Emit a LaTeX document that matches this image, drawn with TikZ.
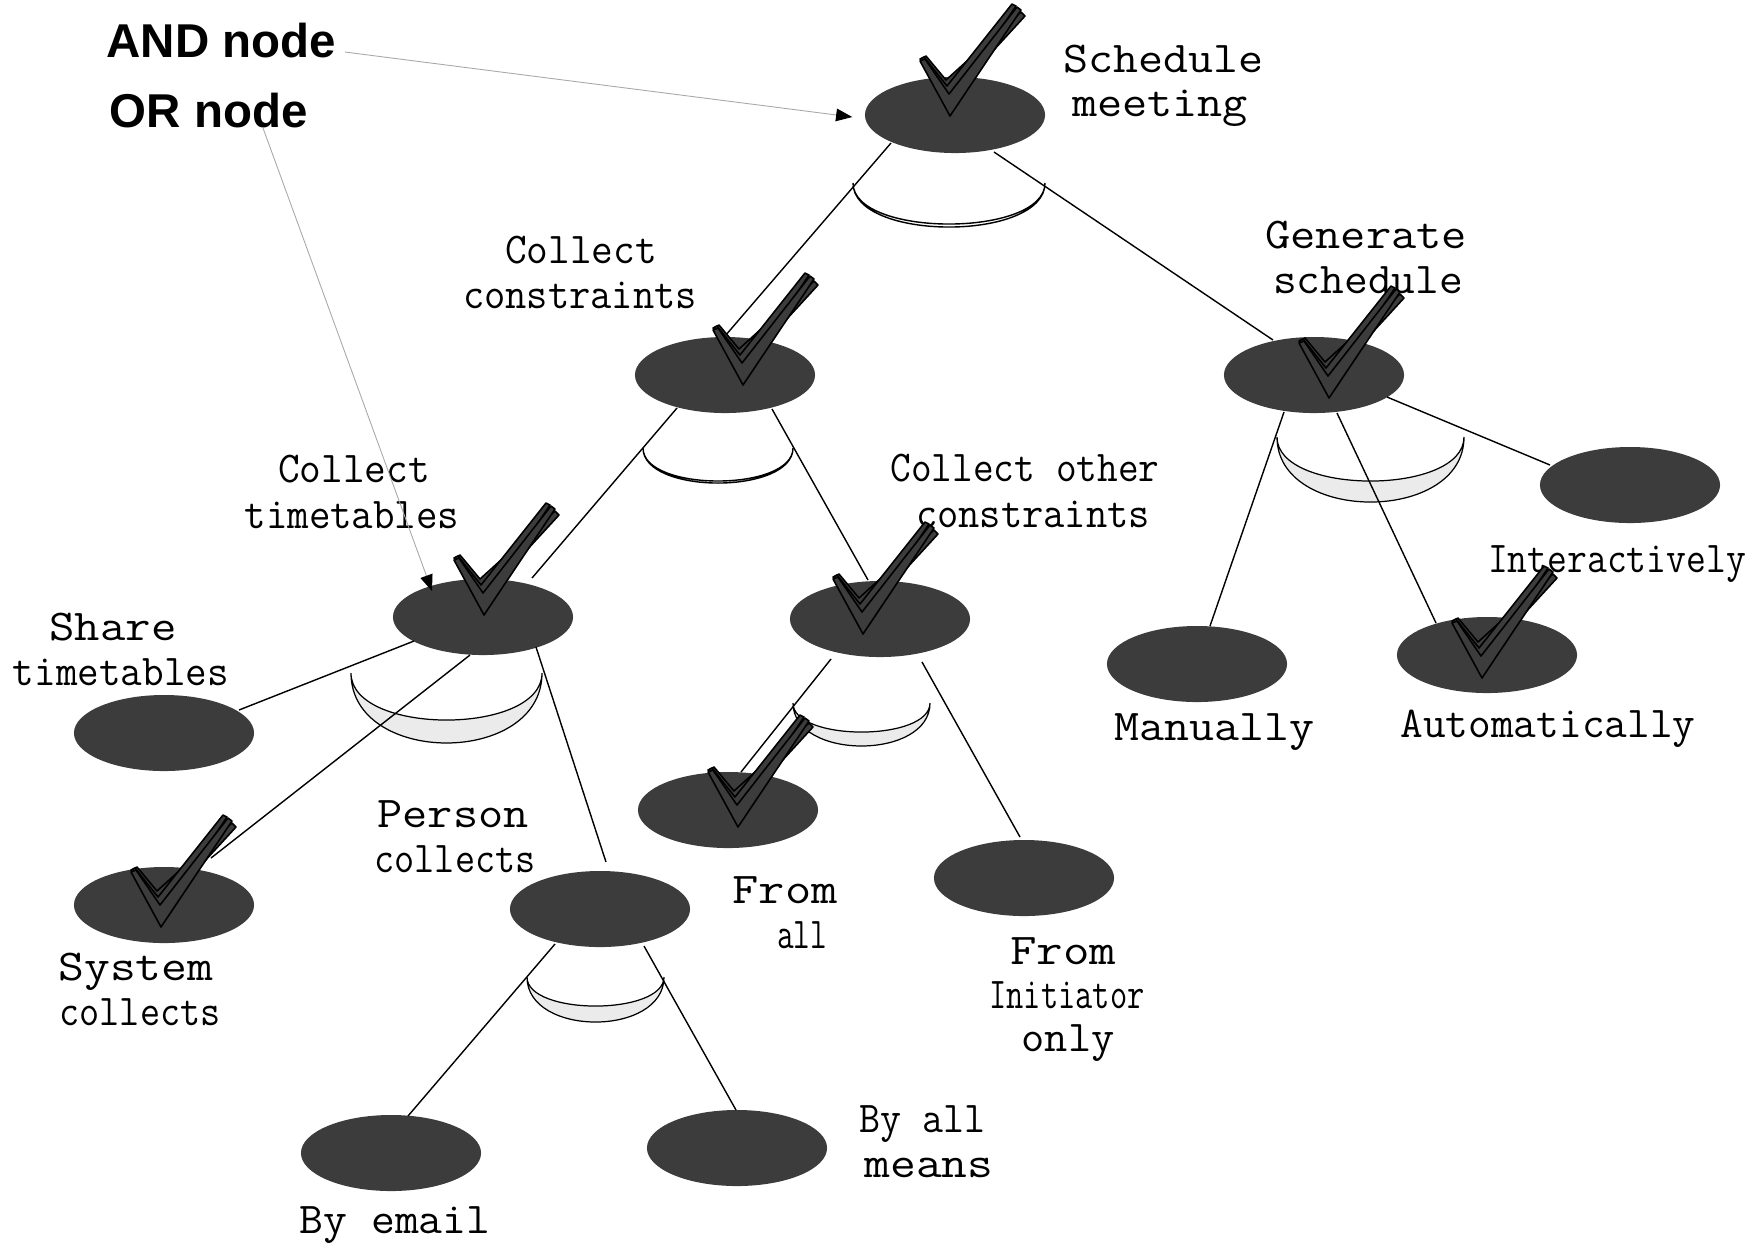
\documentclass[tikz,border=0pt]{standalone}
\usepackage{fontspec}
\usepackage{graphicx}
\usetikzlibrary{calc,arrows.meta,shapes.geometric}
\newfontfamily\sansf{Liberation Sans}
\definecolor{dk}{HTML}{3C3C3C}
\definecolor{lt}{HTML}{EBEBEB}
\definecolor{ptrc}{HTML}{A8A8A8}
\newlength\pxu \setlength\pxu{0.01cm}
\newcommand\fw[2]{\resizebox{#1\pxu}{\height}{#2}}
\tikzset{
  chk/.pic={
    \filldraw[fill=dk,draw=black,line width=0.45pt,line join=round]
      (-3,-15) -- (-28,-58) -- (-24,-60) -- (-4,-36) -- (71,-104) -- (75,-100) -- cycle;
    \filldraw[fill=dk,draw=black,line width=0.45pt,line join=round]
      (-2,-8) -- (-30,-57) -- (-26,-59) -- (-3,-30) -- (62,-112) -- (66,-110) -- cycle;
    \filldraw[fill=dk,draw=black,line width=0.45pt,line join=round]
      (0,0) -- (-30,-55) -- (-25,-57) -- (-1,-22) -- (67,-109) -- (71,-106) -- cycle;
  }
}
\begin{document}
\begin{tikzpicture}[x=0.01cm,y=-0.01cm,
  goal/.style={ellipse, fill=dk, minimum width=1.8cm, minimum height=0.76cm, inner sep=0pt},
  lbl/.style={font=\ttfamily\fontsize{12.5}{14}\selectfont, anchor=base, inner sep=0pt},
  conn/.style={line width=0.4pt, draw=black},
  orarc/.style={fill=lt, draw=black, line width=0.35pt},
  andarc/.style={fill=white, draw=black, line width=0.4pt},
  ptr/.style={draw=ptrc, line width=0.25pt, -{Triangle[length=4.6pt,width=3.6pt,color=black]}},
  hdr/.style={font=\sansf\bfseries\fontsize{13.5}{16}\selectfont, anchor=base west, inner sep=0pt}
]
\useasboundingbox (0,0) rectangle (1760,1253);

% goal nodes
\node[goal] (sm)   at (955,115) {};
\node[goal] (cc)   at (725,375) {};
\node[goal] (gs)   at (1314,375) {};
\node[goal] (ct)   at (483,617) {};
\node[goal] (co)   at (880,619) {};
\node[goal] (st)   at (164,733) {};
\node[goal] (sc)   at (164,905) {};
\node[goal] (pc)   at (600,909) {};
\node[goal] (fa)   at (728,810) {};
\node[goal] (fi)   at (1024,878) {};
\node[goal] (man)  at (1197,664) {};
\node[goal] (auto) at (1487,655) {};
\node[goal] (int)  at (1630,485) {};
\node[goal] (be)   at (391,1153) {};
\node[goal] (ba)   at (737,1148) {};

% AND arcs
\draw[andarc] (853,183) .. controls (853,241.7) and (1045,241.7) .. (1045,183)
  .. controls (1045,237.7) and (853,237.7) .. (853,183) -- cycle;
\draw[andarc] (643,448) .. controls (643,494.7) and (793,494.7) .. (793,448)
  .. controls (793,492) and (643,492) .. (643,448) -- cycle;
% OR arcs
\draw[orarc] (351,673) .. controls (351,766.3) and (542,766.3) .. (542,673)
  .. controls (542,735.7) and (351,735.7) .. (351,673) -- cycle;
\draw[orarc] (793,703) .. controls (793,760.3) and (930,760.3) .. (930,703)
  .. controls (930,741.7) and (793,741.7) .. (793,703) -- cycle;
\draw[orarc] (527,977) .. controls (527,1037) and (664,1037) .. (664,977)
  .. controls (664,1015.7) and (527,1015.7) .. (527,977) -- cycle;
\draw[orarc] (1277,437) .. controls (1277,523.7) and (1464,523.7) .. (1464,437)
  .. controls (1464,495.7) and (1277,495.7) .. (1277,437) -- cycle;

% connectors
\draw[conn] ($(sm)+(-64,28)$) -- ($(cc)+(0,-39)$);
\draw[conn] ($(sm)+(39,37)$) -- ($(gs)+(-41,-35)$);
\draw[conn] ($(cc)+(-48,33)$) -- ($(ct)+(49,-39)$);
\draw[conn] ($(cc)+(47,34)$) -- ($(co)+(-12,-39)$);
\draw[conn] ($(gs)+(-30,37)$) -- ($(man)+(13,-38)$);
\draw[conn] ($(gs)+(23,38)$) -- ($(auto)+(-51,-32)$);
\draw[conn] ($(gs)+(73,22)$) -- ($(int)+(-80,-20)$);
\draw[conn] ($(ct)+(-69,24)$) -- ($(st)+(75,-23)$);
\draw[conn] ($(ct)+(-13,38)$) -- ($(sc)+(47,-47)$);
\draw[conn] ($(ct)+(53,30)$) -- ($(pc)+(6,-47)$);
\draw[conn] ($(co)+(-49,40)$) -- ($(fa)+(13,-38)$);
\draw[conn] ($(co)+(42,43)$) -- ($(fi)+(-4,-41)$);
\draw[conn] ($(pc)+(-45,35)$) -- ($(be)+(17,-37)$);
\draw[conn] ($(pc)+(44,37)$) -- ($(ba)+(-1,-38)$);

% labels
\node[lbl] (smA) at (1163,72) {\fw{200}{Schedule}};
\node[lbl] (smB) at (1160,116) {\fw{176}{meeting}};
\node[lbl] (ccA) at (581,263) {\fw{152}{Collect}};
\node[lbl] (ccB) at (580,308) {\fw{234}{constraints}};
\node[lbl] (gsA) at (1366,248) {\fw{202}{Generate}};
\node[lbl] (gsB) at (1368,293) {\fw{190}{schedule}};
\node[lbl] (ctA) at (354,482) {\fw{152}{Collect}};
\node[lbl] (ctB) at (352,528) {\fw{215}{timetables}};
\node[lbl] (coA) at (1025,481) {\fw{269}{Collect other}};
\node[lbl] (coB) at (1033,527) {\fw{234}{constraints}};
\node[lbl] (stA) at (113,640) {\fw{127}{Share}};
\node[lbl] (stB) at (121,685) {\fw{216}{timetables}};
\node[lbl] (scA) at (136,980) {\fw{155}{System}};
\node[lbl] (scB) at (140,1025) {\fw{161}{collects}};
\node[lbl] (pcA) at (453,827) {\fw{151}{Person}};
\node[lbl] (pcB) at (455,872) {\fw{161}{collects}};
\node[lbl] (faA) at (785,903) {\fw{105}{From}};
\node[lbl] (faB) at (802,948) {\fw{50}{all}};
\node[lbl] (fiA) at (1063,964) {\fw{106}{From}};
\node[lbl] (fiB) at (1067,1008) {\fw{155}{Initiator}};
\node[lbl] (fiC) at (1068,1051) {\fw{93}{only}};
\node[lbl] (manL) at (1214,740) {\fw{200}{Manually}};
\node[lbl] (autoL) at (1548,737) {\fw{295}{Automatically}};
\node[lbl] (intL) at (1617,572) {\fw{258}{Interactively}};
\node[lbl] (beL) at (395,1233) {\fw{191}{By email}};
\node[lbl] (baA) at (922,1132) {\fw{126}{By all}};
\node[lbl] (baB) at (929,1177) {\fw{129}{means}};

% legend
\node[hdr] (andl) at (106,57) {AND node};
\node[hdr] (orl) at (109,127) {OR node};
\draw[ptr] ($(andl.base east)+(8,-5)$) -- ($(sm.west)+(-12,2)$);
\draw[ptr] ($(orl.base west)+(154,1)$) -- ($(ct)+(-51,-26)$);

% satisfied marks
\pic at ($(sm)+(-5,1)$) {chk};
\pic at ($(cc)+(18,10)$) {chk};
\pic at ($(gs)+(15,23)$) {chk};
\pic at ($(auto)+(-5,23)$) {chk};
\pic at ($(ct)+(1,-2)$) {chk};
\pic at ($(co)+(-17,15)$) {chk};
\pic at ($(fa)+(10,17)$) {chk};
\pic at ($(sc)+(-3,22)$) {chk};
\end{tikzpicture}
\end{document}
